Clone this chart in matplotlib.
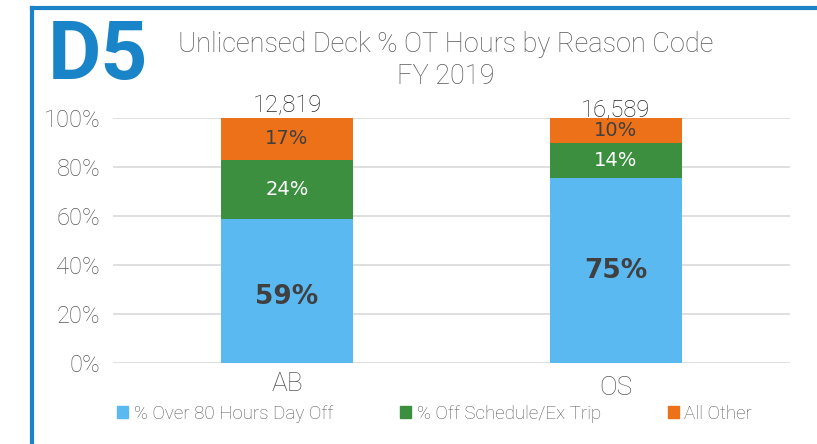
import numpy as np
import matplotlib.pyplot as plt
from matplotlib.lines import Line2D
from matplotlib.patches import Patch

# data
categories = ["AB", "OS"]
totals = ["12,819", "16,589"]
over80 = [58.8, 75.4]
off_sched = [24.2, 14.4]
all_other = [17.0, 10.2]
series_names = ["% Over 80 Hours Day Off", "% Off Schedule/Ex Trip", "All Other"]
colors = ["#5BB9F1", "#3C8F3E", "#EC7118"]

thin = ["Roboto", "DejaVu Sans"]

fig = plt.figure(figsize=(8.17, 4.44), dpi=100)
ax = fig.add_axes([0.138, 0.1824, 0.829, 0.5518])

x = np.arange(len(categories))
w = 0.4
ax.bar(x, over80, w, color=colors[0], zorder=3)
ax.bar(x, off_sched, w, bottom=over80, color=colors[1], zorder=3)
bot3 = np.array(over80) + np.array(off_sched)
ax.bar(x, all_other, w, bottom=bot3, color=colors[2], zorder=3)

ax.set_xlim(-0.53, 1.53)
ax.set_ylim(0, 100)
ax.set_yticks(np.arange(0, 101, 20))
ax.set_yticklabels([f"{v}%" for v in range(0, 101, 20)])
ax.grid(axis="y", color="#D9D9D9", lw=1.2, zorder=0)
for s in ax.spines.values():
    s.set_visible(False)
ax.tick_params(length=0, labelsize=17, labelcolor="#595959", pad=9)
for t in ax.get_yticklabels():
    t.set_family(thin)
    t.set_fontweight("light")
ax.set_xticks([])

# category labels
for i, c in enumerate(categories):
    ax.text(x[i], -3.5 - 1.6 * i, c, ha="center", va="top", fontsize=19,
            color="#595959", family=thin, fontweight="light")

# segment labels
for i in range(len(categories)):
    ax.text(x[i], over80[i] * 0.46 + (3 if i else 0), f"{round(over80[i])}%", ha="center",
            va="center", fontsize=19, fontweight="bold", color="#404040", zorder=4)
    ax.text(x[i], over80[i] + off_sched[i] / 2, f"{round(off_sched[i])}%", ha="center",
            va="center", fontsize=14, color="white", zorder=4)
    ax.text(x[i], bot3[i] + all_other[i] / 2, f"{round(all_other[i])}%", ha="center",
            va="center", fontsize=14, color="#404040", zorder=4)
    ax.text(x[i], 100.5 - 2 * i, totals[i], ha="center", va="bottom", fontsize=17,
            color="#262626", family=thin, fontweight="light")

# title and badge
fig.text(0.546, 0.9, "Unlicensed Deck % OT Hours by Reason Code", ha="center",
         va="center", fontsize=19.5, color="#595959", family=thin, fontweight="light")
fig.text(0.546, 0.828, "FY 2019", ha="center", va="center", fontsize=19.5,
         color="#595959", family=thin, fontweight="light")
fig.text(0.058, 0.872, "D5", ha="left", va="center", fontsize=59, fontweight="bold",
         color="#1985C8", family=thin)

# frame lines
fig.add_artist(Line2D([0.039, 0.039], [0, 0.982], color="#1985C8", lw=3,
                      transform=fig.transFigure))
fig.add_artist(Line2D([0.039, 1.0], [0.982, 0.982], color="#1985C8", lw=3,
                      transform=fig.transFigure))

# legend
handles = [Patch(color=c) for c in colors]
leg = fig.legend(handles, series_names, loc="center", bbox_to_anchor=(0.532, 0.068),
                 ncol=3, frameon=False, handlelength=0.6, handleheight=0.6,
                 handletextpad=0.3, columnspacing=3.55,
                 prop={"family": thin, "size": 13.5, "weight": "light"})
for t in leg.get_texts():
    t.set_color("#595959")

fig.savefig("out.png", dpi=100)
